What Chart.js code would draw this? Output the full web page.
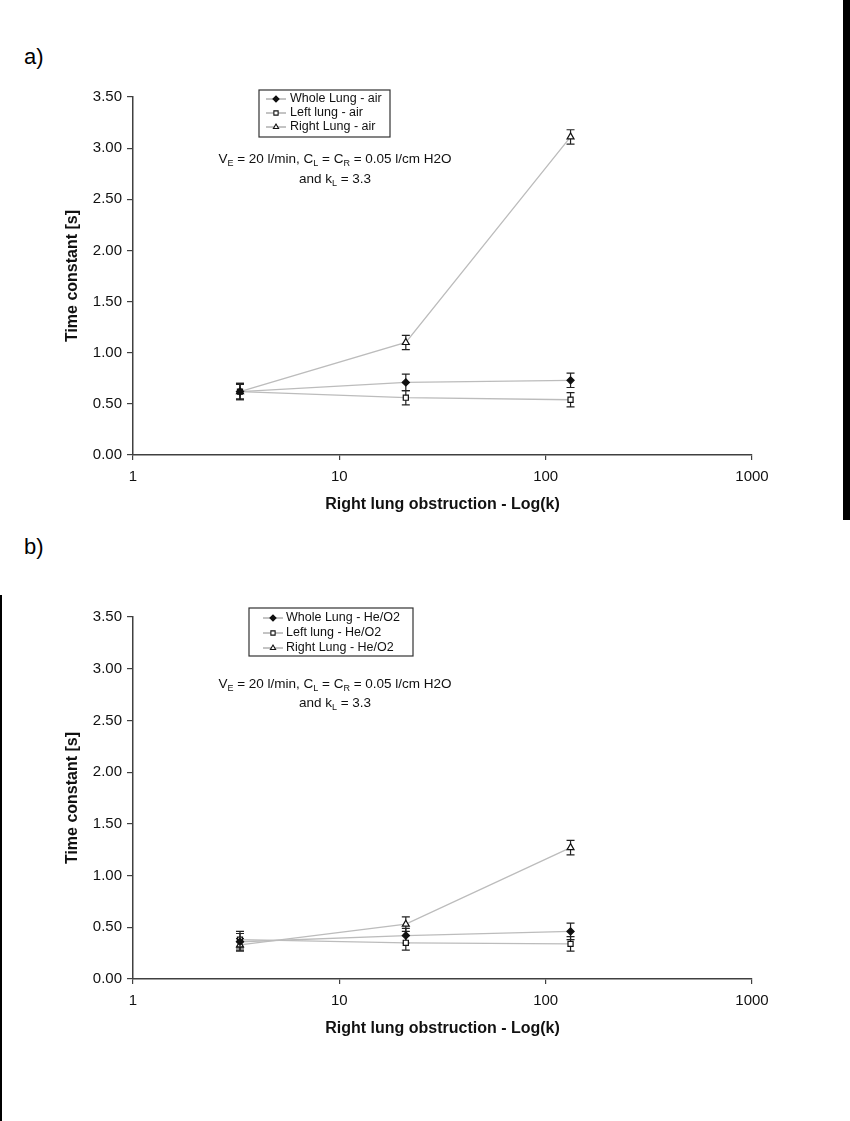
<!DOCTYPE html>
<html>
<head>
<meta charset="utf-8">
<script src="https://cdn.jsdelivr.net/npm/chart.js@4.4.0/dist/chart.umd.min.js"></script>
<style>
  body { margin: 0; background: #fff; width: 850px; height: 1121px; position: relative; overflow: hidden; font-family: "Liberation Sans", Arial, sans-serif; }
  .panel { position: absolute; left: 0; width: 850px; }
  .tag { position: absolute; left: 24px; font-size: 22px; color: #000; }
  #barRight { position: absolute; left: 843px; top: 0; width: 7px; height: 520px; background: #000; }
  #lineLeft { position: absolute; left: 0; top: 595px; width: 2px; height: 526px; background: #000; }
</style>
</head>
<body>
<div class="tag" style="top:44px">a)</div>
<div class="tag" style="top:534px">b)</div>
<div id="barRight"></div>
<div id="lineLeft"></div>
<div class="panel" style="top:0;height:520px"><canvas id="chartA" width="850" height="520"></canvas></div>
<div class="panel" style="top:520px;height:560px"><canvas id="chartB" width="850" height="560"></canvas></div>
<script>
// obstruction factor k of the right lung
var kValues = [3.3, 21, 132];
var xTicks = [1, 10, 100, 1000];

// a) air
var wholeAir = [0.62, 0.71, 0.73];
var wholeAirErr = [0.08, 0.08, 0.07];
var leftAir = [0.62, 0.56, 0.54];
var leftAirErr = [0.07, 0.07, 0.07];
var rightAir = [0.62, 1.10, 3.11];
var rightAirErr = [0.08, 0.07, 0.07];

// b) He/O2
var wholeHe = [0.36, 0.42, 0.46];
var wholeHeErr = [0.08, 0.07, 0.08];
var leftHe = [0.38, 0.35, 0.34];
var leftHeErr = [0.08, 0.07, 0.07];
var rightHe = [0.33, 0.53, 1.27];
var rightHeErr = [0.06, 0.07, 0.07];

var lineColor = '#bcbcbc';
var axisColor = '#404040';
var fontFamily = '"Liberation Sans", Arial, sans-serif';

function makeDataset(label, values, errs, style) {
    return {
        label: label,
        data: values.map((v, i) => ({ x: kValues[i], y: v })),
        errors: errs,
        borderColor: lineColor,
        borderWidth: 1.3,
        pointStyle: style,
        pointRadius: style === 'triangle' ? 4 : 3.6,
        pointBorderColor: '#111',
        pointBorderWidth: 1.2,
        pointBackgroundColor: style === 'rectRot' ? '#111' : '#fff',
        fill: false,
        tension: 0
    };
}

// error bars drawn under the markers
var errorBars = {
    id: 'errorBars',
    beforeDatasetsDraw(chart) {
        const ctx = chart.ctx;
        const yScale = chart.scales.y;
        ctx.save();
        ctx.strokeStyle = '#222';
        ctx.lineWidth = 1.2;
        chart.data.datasets.forEach((ds, di) => {
            const meta = chart.getDatasetMeta(di);
            meta.data.forEach((pt, i) => {
                const v = ds.data[i].y;
                const e = ds.errors[i];
                const yTop = yScale.getPixelForValue(v + e);
                const yBot = yScale.getPixelForValue(v - e);
                ctx.beginPath();
                ctx.moveTo(pt.x, yTop); ctx.lineTo(pt.x, yBot);
                ctx.moveTo(pt.x - 4, yTop); ctx.lineTo(pt.x + 4, yTop);
                ctx.moveTo(pt.x - 4, yBot); ctx.lineTo(pt.x + 4, yBot);
                ctx.stroke();
            });
        });
        ctx.restore();
    }
};

// boxed legend + condition text inside the plot
function notesPlugin(box, note) {
    return {
        id: 'notes',
        afterDraw(chart) {
            const ctx = chart.ctx;
            ctx.save();
            ctx.strokeStyle = '#333';
            ctx.lineWidth = 1.2;
            ctx.strokeRect(box.x, box.y, box.w, box.h);
            ctx.font = '12.5px ' + fontFamily;
            ctx.textBaseline = 'middle';
            chart.data.datasets.forEach((ds, i) => {
                const y = box.rows[i];
                ctx.strokeStyle = '#888';
                ctx.lineWidth = 1;
                ctx.beginPath();
                ctx.moveTo(box.mx - 10, y); ctx.lineTo(box.mx + 10, y);
                ctx.stroke();
                ctx.fillStyle = ds.pointBackgroundColor;
                ctx.strokeStyle = '#111';
                ctx.lineWidth = 1.1;
                Chart.helpers.drawPoint(ctx, { pointStyle: ds.pointStyle, radius: 3, rotation: 0, borderWidth: 1.1 }, box.mx, y);
                ctx.fillStyle = '#111';
                ctx.fillText(ds.label, box.tx, y);
            });
            // condition text with subscripts, lines centred on note.cx
            drawRich(ctx, note.cx, note.y1, [
                ['V'], ['E', 1], [' = 20 l/min, C'], ['L', 1], [' = C'], ['R', 1], [' = 0.05 l/cm H2O']
            ]);
            drawRich(ctx, note.cx, note.y2, [['and k'], ['L', 1], [' = 3.3']]);
            ctx.restore();
        }
    };
}

function drawRich(ctx, cx, y, parts) {
    const big = '13.5px ' + fontFamily, small = '9px ' + fontFamily;
    let w = 0;
    parts.forEach(p => { ctx.font = p[1] ? small : big; w += ctx.measureText(p[0]).width; });
    let x = cx - w / 2;
    ctx.fillStyle = '#111';
    ctx.textBaseline = 'alphabetic';
    parts.forEach(p => {
        ctx.font = p[1] ? small : big;
        ctx.fillText(p[0], x, p[1] ? y + 3 : y);
        x += ctx.measureText(p[0]).width;
    });
}

function makeChart(id, datasets, plotBottom, canvasH, box, note) {
    return new Chart(document.getElementById(id), {
        type: 'line',
        data: { datasets: datasets },
        plugins: [errorBars, notesPlugin(box, note)],
        options: {
            responsive: false,
            animation: false,
            layout: { padding: { top: 97, right: 98, left: 0, bottom: 0 } },
            plugins: { legend: { display: false }, tooltip: { enabled: false } },
            scales: {
                x: {
                    type: 'logarithmic',
                    min: 1,
                    max: 1000,
                    afterBuildTicks: s => { s.ticks = xTicks.map(v => ({ value: v })); },
                    afterFit: s => { s.height = canvasH - plotBottom; },
                    ticks: {
                        autoSkip: false,
                        maxRotation: 0,
                        color: '#111',
                        padding: 8,
                        font: { family: fontFamily, size: 15 },
                        callback: v => String(v)
                    },
                    grid: { drawOnChartArea: false, tickLength: 5, color: axisColor, lineWidth: 1.2 },
                    border: { color: axisColor, width: 1.5 },
                    title: {
                        display: true,
                        text: 'Right lung obstruction - Log(k)',
                        color: '#111',
                        font: { family: fontFamily, size: 16, weight: 'bold' },
                        padding: { top: 0, bottom: canvasH - plotBottom - 59 }
                    }
                },
                y: {
                    min: 0,
                    max: 3.5,
                    afterFit: s => { s.width = 133; },
                    ticks: {
                        stepSize: 0.5,
                        color: '#111',
                        padding: 5,
                        font: { family: fontFamily, size: 15 },
                        callback: v => v.toFixed(2)
                    },
                    grid: { drawOnChartArea: false, tickLength: 6, color: axisColor, lineWidth: 1.2 },
                    border: { color: axisColor, width: 1.5 },
                    title: {
                        display: true,
                        text: 'Time constant [s]',
                        color: '#111',
                        font: { family: fontFamily, size: 16, weight: 'bold' },
                        padding: { top: 63, bottom: 0 }
                    }
                }
            }
        }
    });
}

makeChart('chartA', [
    makeDataset('Whole Lung - air', wholeAir, wholeAirErr, 'rectRot'),
    makeDataset('Left lung - air', leftAir, leftAirErr, 'rect'),
    makeDataset('Right Lung - air', rightAir, rightAirErr, 'triangle')
], 455, 520,
    { x: 259, y: 90, w: 131, h: 47, mx: 276, tx: 290, rows: [99, 113, 127] },
    { cx: 335, y1: 163, y2: 183 });

makeChart('chartB', [
    makeDataset('Whole Lung - He/O2', wholeHe, wholeHeErr, 'rectRot'),
    makeDataset('Left lung - He/O2', leftHe, leftHeErr, 'rect'),
    makeDataset('Right Lung - He/O2', rightHe, rightHeErr, 'triangle')
], 459, 560,
    { x: 249, y: 88, w: 164, h: 48, mx: 273, tx: 286, rows: [98, 113, 128] },
    { cx: 335, y1: 168, y2: 187 });
</script>
</body>
</html>
